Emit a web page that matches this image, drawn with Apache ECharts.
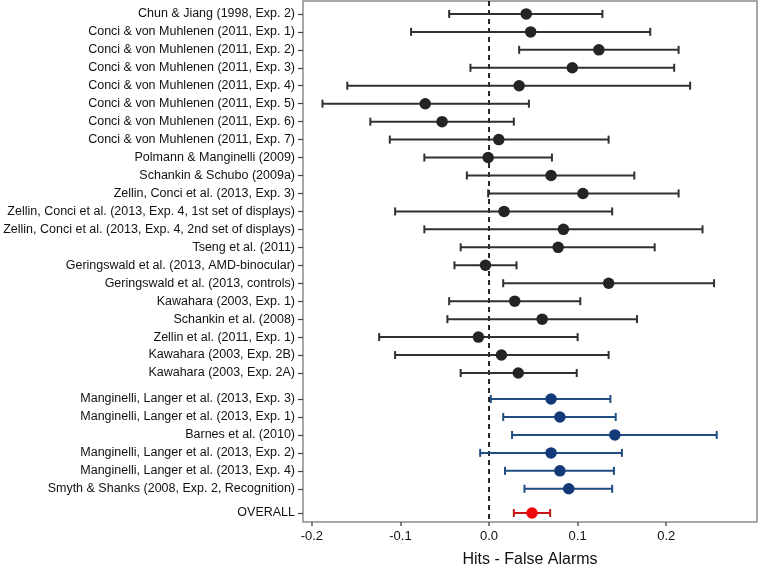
<!DOCTYPE html>
<html lang="en">
<head>
<meta charset="UTF-8">
<title>Forest plot</title>
<script src="https://cdn.jsdelivr.net/npm/echarts@6/dist/echarts.min.js"></script>
<style>
  html, body { margin: 0; padding: 0; background: #fff; }
  #main { width: 761px; height: 567px; }
</style>
</head>
<body>
<div id="main"></div>
<script>
// studies, grouped as in the figure (top to bottom)
var blackStudies = [
  'Chun & Jiang (1998, Exp. 2)',
  'Conci & von Muhlenen (2011, Exp. 1)',
  'Conci & von Muhlenen (2011, Exp. 2)',
  'Conci & von Muhlenen (2011, Exp. 3)',
  'Conci & von Muhlenen (2011, Exp. 4)',
  'Conci & von Muhlenen (2011, Exp. 5)',
  'Conci & von Muhlenen (2011, Exp. 6)',
  'Conci & von Muhlenen (2011, Exp. 7)',
  'Polmann & Manginelli (2009)',
  'Schankin & Schubo (2009a)',
  'Zellin, Conci et al. (2013, Exp. 3)',
  'Zellin, Conci et al. (2013, Exp. 4, 1st set of displays)',
  'Zellin, Conci et al. (2013, Exp. 4, 2nd set of displays)',
  'Tseng et al. (2011)',
  'Geringswald et al. (2013, AMD-binocular)',
  'Geringswald et al. (2013, controls)',
  'Kawahara (2003, Exp. 1)',
  'Schankin et al. (2008)',
  'Zellin et al. (2011, Exp. 1)',
  'Kawahara (2003, Exp. 2B)',
  'Kawahara (2003, Exp. 2A)'
];
var blackEst = [0.042, 0.047, 0.124, 0.094, 0.034, -0.072, -0.053, 0.011, -0.001, 0.070, 0.106,
  0.017, 0.084, 0.078, -0.004, 0.135, 0.029, 0.060, -0.012, 0.014, 0.033];
var blackLo = [-0.045, -0.088, 0.034, -0.021, -0.160, -0.188, -0.134, -0.112, -0.073, -0.025, -0.001,
  -0.106, -0.073, -0.032, -0.039, 0.016, -0.045, -0.047, -0.124, -0.106, -0.032];
var blackHi = [0.128, 0.182, 0.214, 0.209, 0.227, 0.045, 0.028, 0.135, 0.071, 0.164, 0.214,
  0.139, 0.241, 0.187, 0.031, 0.254, 0.103, 0.167, 0.100, 0.135, 0.099];

var blueStudies = [
  'Manginelli, Langer et al. (2013, Exp. 3)',
  'Manginelli, Langer et al. (2013, Exp. 1)',
  'Barnes et al. (2010)',
  'Manginelli, Langer et al. (2013, Exp. 2)',
  'Manginelli, Langer et al. (2013, Exp. 4)',
  'Smyth & Shanks (2008, Exp. 2, Recognition)'
];
var blueEst = [0.070, 0.080, 0.142, 0.070, 0.080, 0.090];
var blueLo = [0.002, 0.016, 0.026, -0.010, 0.018, 0.040];
var blueHi = [0.137, 0.143, 0.257, 0.150, 0.141, 0.139];

var overallStudies = ['OVERALL'];
var overallEst = [0.0485];
var overallLo = [0.028];
var overallHi = [0.069];

var xTicks = [-0.2, -0.1, 0.0, 0.1, 0.2];

// vertical layout: one unit per study, a wider step between groups
var groupGap = [0, 1.45, 1.35];
var groups = [
  { names: blackStudies, est: blackEst, lo: blackLo, hi: blackHi, dot: '#242424', line: '#303030' },
  { names: blueStudies, est: blueEst, lo: blueLo, hi: blueHi, dot: '#123a78', line: '#1f4d82' },
  { names: overallStudies, est: overallEst, lo: overallLo, hi: overallHi, dot: '#ee0a0a', line: '#c41818' }
];

var labelAt = {};
var yPos = [];
var series = [];
var cursor = 0;
groups.forEach(function (g, gi) {
  var barData = [], dotData = [];
  g.names.forEach(function (name, i) {
    if (gi > 0 || i > 0) cursor += (i === 0 ? groupGap[gi] : 1);
    var p = Math.round(cursor * 100) / 100;
    yPos.push(p);
    labelAt[p.toFixed(2)] = name;
    barData.push([g.lo[i], g.hi[i], p]);
    dotData.push([g.est[i], p]);
  });
  series.push({
    type: 'custom',
    silent: true,
    z: 2,
    data: barData,
    encode: { x: [0, 1], y: 2 },
    renderItem: (function (col) {
      return function (params, api) {
        var a = api.coord([api.value(0), api.value(2)]);
        var b = api.coord([api.value(1), api.value(2)]);
        var c = 4;
        var st = { stroke: col, lineWidth: 2 };
        return {
          type: 'group',
          children: [
            { type: 'line', shape: { x1: a[0], y1: a[1], x2: b[0], y2: b[1] }, style: st },
            { type: 'line', shape: { x1: a[0], y1: a[1] - c, x2: a[0], y2: a[1] + c }, style: st },
            { type: 'line', shape: { x1: b[0], y1: b[1] - c, x2: b[0], y2: b[1] + c }, style: st }
          ]
        };
      };
    })(g.line)
  });
  series.push({
    type: 'scatter',
    silent: true,
    z: 3,
    symbolSize: 11.5,
    itemStyle: { color: g.dot, opacity: 1 },
    data: dotData
  });
});

// dashed reference line at zero
series.push({
  type: 'line',
  silent: true,
  z: 1,
  symbol: 'none',
  data: [[0, -0.72], [0, 28.3]],
  lineStyle: { color: '#111', width: 1.8, type: [5, 4] }
});

var chart = echarts.init(document.getElementById('main'));
chart.setOption({
  animation: false,
  backgroundColor: '#fff',
  grid: {
    left: 303, right: 4, top: 1, bottom: 45,
    outerBoundsMode: 'none',
    show: true, borderColor: '#8c8c8c', borderWidth: 1.5, backgroundColor: 'transparent'
  },
  xAxis: {
    type: 'value',
    min: -0.21,
    max: 0.3025,
    splitLine: { show: false },
    axisLine: { show: false, onZero: false },
    axisTick: { show: true, length: 4, customValues: xTicks, lineStyle: { color: '#555', width: 1.5 } },
    axisLabel: {
      customValues: xTicks,
      formatter: function (v) { return v.toFixed(1); },
      color: '#111', fontSize: 13, fontFamily: 'Liberation Sans', margin: 8
    },
    name: 'Hits - False Alarms',
    nameLocation: 'middle',
    nameGap: 30,
    nameTextStyle: { color: '#111', fontSize: 16, fontFamily: 'Liberation Sans' }
  },
  yAxis: {
    type: 'value',
    inverse: true,
    min: -0.72,
    max: 28.3,
    splitLine: { show: false },
    axisLine: { show: false, onZero: false },
    axisTick: { show: true, length: 5, customValues: yPos, lineStyle: { color: '#444', width: 1.2 } },
    axisLabel: {
      customValues: yPos,
      formatter: function (v) { return labelAt[(Math.round(v * 100) / 100).toFixed(2)] || ''; },
      color: '#111', fontSize: 12.5, fontFamily: 'Liberation Sans', margin: 8
    }
  },
  series: series
});
</script>
</body>
</html>
